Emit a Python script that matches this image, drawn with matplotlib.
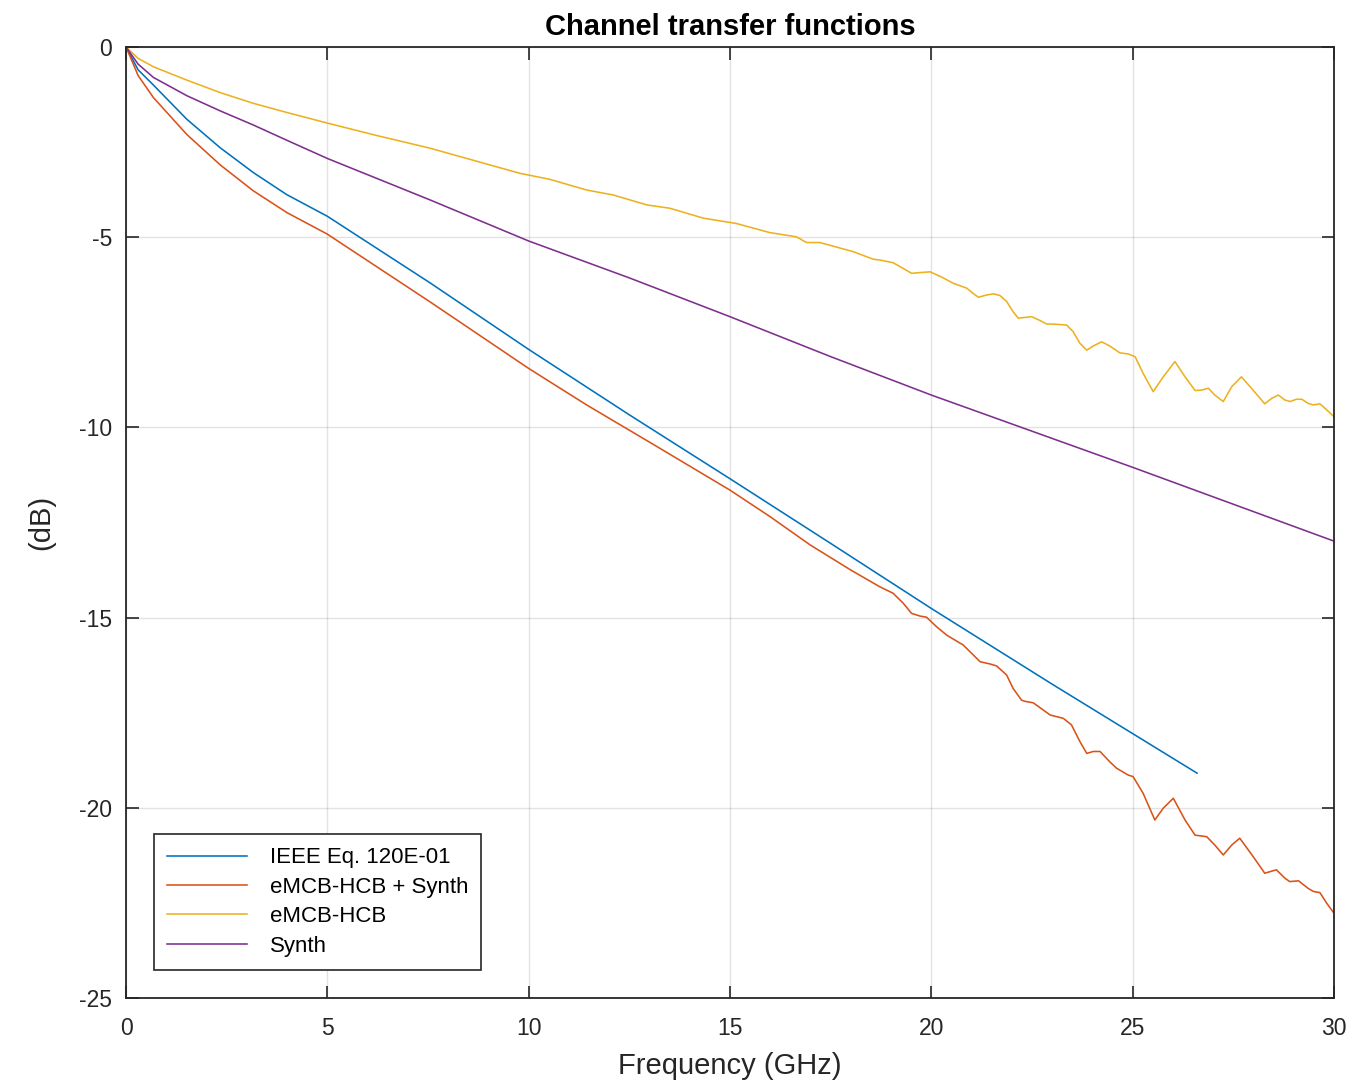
import matplotlib.pyplot as plt
import numpy as np

plt.rcParams["font.family"] = ["Liberation Sans", "DejaVu Sans"]
plt.rcParams["axes.unicode_minus"] = False

# values (frequency in GHz, gain in dB)
ieee_f = [0, 0.3, 0.68, 1.51, 2.34, 3.16, 3.99, 5.0, 7.55, 10.0, 12.5, 15.0, 17.5,
          20.0, 23.0, 26.6]
ieee_db = [0, -0.6, -1.0, -1.9, -2.65, -3.3, -3.88, -4.45, -6.2, -7.95, -9.67, -11.35,
           -13.05, -14.76, -16.75, -19.09]

combo_f = [0, 0.3, 0.68, 1.51, 2.34, 3.16, 3.99, 5.0, 7.55, 10.0, 11.44, 13.1, 15.0,
           16.0, 16.99, 18.0, 18.72, 19.05, 19.3, 19.51, 19.72, 19.88, 20.13, 20.38,
           20.79, 21.04, 21.21, 21.46, 21.62, 21.87, 22.03, 22.24, 22.32, 22.53, 22.78,
           22.95, 23.28, 23.48, 23.69, 23.86, 24.02, 24.19, 24.43, 24.6, 24.89, 25.01,
           25.26, 25.55, 25.76, 26.01, 26.3, 26.55, 26.84, 27.04, 27.25, 27.46, 27.66,
           27.99, 28.28, 28.57, 28.78, 28.9, 29.12, 29.36, 29.49, 29.65, 29.82, 30.0]
combo_db = [0, -0.75, -1.33, -2.3, -3.1, -3.78, -4.35, -4.92, -6.7, -8.45, -9.41,
            -10.45, -11.65, -12.35, -13.09, -13.75, -14.19, -14.36, -14.62, -14.89,
            -14.96, -14.99, -15.24, -15.46, -15.72, -15.98, -16.16, -16.22, -16.27,
            -16.51, -16.86, -17.17, -17.2, -17.24, -17.43, -17.56, -17.65, -17.82,
            -18.26, -18.57, -18.52, -18.52, -18.79, -18.96, -19.14, -19.18, -19.62,
            -20.32, -20.01, -19.75, -20.32, -20.72, -20.76, -20.98, -21.24, -20.98,
            -20.8, -21.28, -21.72, -21.63, -21.85, -21.94, -21.92, -22.12, -22.2,
            -22.23, -22.51, -22.77]

hcb_f = [0, 0.3, 0.68, 1.51, 2.34, 3.16, 3.99, 5.0, 6.2, 7.55, 8.7, 9.78, 10.53, 11.44,
         12.1, 12.93, 13.51, 14.34, 15.16, 15.99, 16.65, 16.9, 17.23, 18.06, 18.56,
         18.72, 19.05, 19.3, 19.51, 19.72, 19.97, 20.26, 20.54, 20.88, 21.04, 21.17,
         21.37, 21.54, 21.7, 21.87, 22.03, 22.16, 22.32, 22.49, 22.7, 22.86, 23.11,
         23.36, 23.52, 23.69, 23.86, 24.02, 24.23, 24.43, 24.68, 24.89, 25.06, 25.26,
         25.51, 25.76, 26.05, 26.3, 26.55, 26.71, 26.88, 27.04, 27.25, 27.46, 27.7,
         27.99, 28.28, 28.45, 28.62, 28.78, 28.91, 29.07, 29.2, 29.36, 29.49, 29.65,
         29.82, 30.0]
hcb_db = [0, -0.3, -0.52, -0.87, -1.2, -1.48, -1.72, -2.0, -2.32, -2.66, -3.0, -3.32,
          -3.48, -3.76, -3.89, -4.15, -4.24, -4.5, -4.64, -4.88, -4.99, -5.14, -5.14,
          -5.38, -5.58, -5.6, -5.67, -5.82, -5.95, -5.93, -5.91, -6.05, -6.21, -6.34,
          -6.48, -6.58, -6.52, -6.49, -6.53, -6.69, -6.96, -7.13, -7.11, -7.09, -7.19,
          -7.28, -7.29, -7.31, -7.48, -7.79, -7.97, -7.86, -7.75, -7.86, -8.04, -8.07,
          -8.14, -8.58, -9.06, -8.67, -8.27, -8.67, -9.03, -9.02, -8.97, -9.15, -9.32,
          -8.93, -8.67, -9.02, -9.38, -9.24, -9.15, -9.28, -9.32, -9.26, -9.26, -9.37,
          -9.41, -9.38, -9.54, -9.72]

synth_f = [0, 0.3, 0.68, 1.51, 2.34, 3.16, 3.99, 5.0, 7.55, 10.0, 12.5, 15.0, 17.5,
           20.0, 25.0, 30.0]
synth_db = [0, -0.45, -0.8, -1.28, -1.68, -2.05, -2.45, -2.93, -4.02, -5.1, -6.07,
            -7.09, -8.14, -9.15, -11.05, -12.99]

labels = ["IEEE Eq. 120E-01", "eMCB-HCB + Synth", "eMCB-HCB", "Synth"]
colors = ["#0072BD", "#D95319", "#EDB120", "#7E2F8E"]

fig = plt.figure(figsize=(13.64, 10.83), dpi=100)
ax = fig.add_axes([0.0924, 0.0785, 0.8856, 0.8781])

series = [(ieee_f, ieee_db), (combo_f, combo_db), (hcb_f, hcb_db), (synth_f, synth_db)]
for (f, db), lab, c in zip(series, labels, colors):
    ax.plot(f, db, color=c, lw=1.15, label=lab)

ax.set_xlim(0, 30)
ax.set_ylim(-25, 0)
ax.set_xticks(np.arange(0, 31, 5))
ax.set_yticks(np.arange(-25, 1, 5))
ax.grid(True, color="#262626", alpha=0.13, lw=1.0)
ax.tick_params(direction="in", length=9, width=1.2, labelsize=16.5, colors="#262626",
               top=True, right=True)
ax.tick_params(axis="x", pad=14)
ax.tick_params(axis="y", pad=10)
for s in ax.spines.values():
    s.set_color("#262626")
    s.set_linewidth(1.3)

ax.set_title("Channel transfer functions", fontsize=21, fontweight="bold", pad=9)
ax.set_xlabel("Frequency (GHz)", fontsize=21, color="#262626", labelpad=8)
ax.set_ylabel("(dB)", fontsize=21, color="#262626", labelpad=17)

leg = ax.legend(loc="lower left", bbox_to_anchor=(0.0232, 0.0294), borderaxespad=0,
                fontsize=16, fancybox=False, framealpha=1, edgecolor="#262626",
                handlelength=3.6, labelspacing=0.38, borderpad=0.6, handletextpad=1.0)
leg.get_frame().set_linewidth(1.2)

fig.savefig("out.png", dpi=100)
